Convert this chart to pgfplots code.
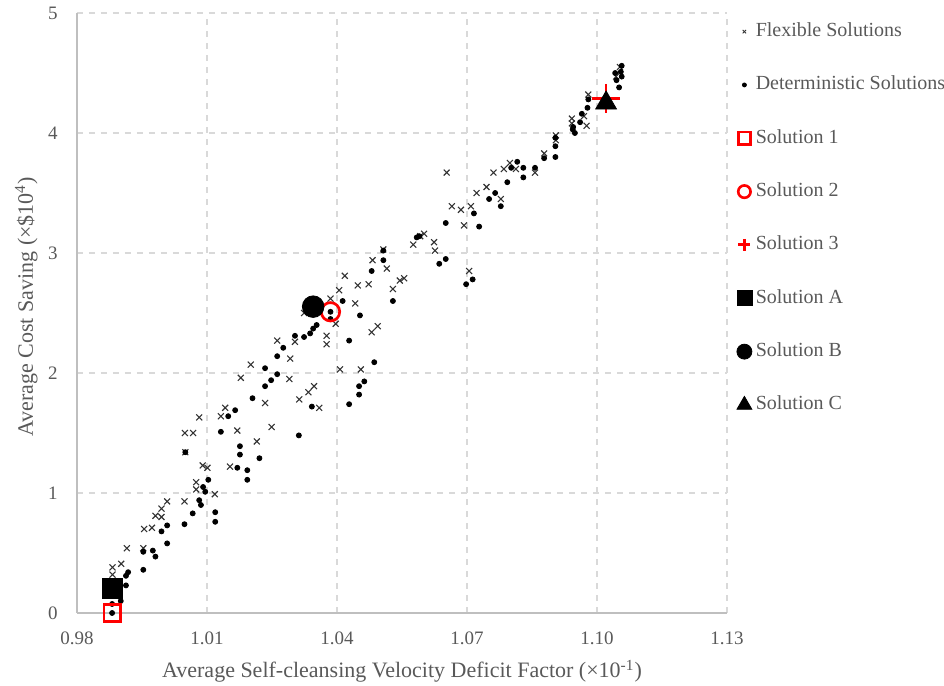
\documentclass[border=0pt]{standalone}
\usepackage{fontspec}
\setmainfont{Liberation Serif}
\usepackage{pgfplots}
\pgfplotsset{compat=1.18}
\definecolor{txt}{HTML}{595959}
\definecolor{gridc}{HTML}{D9D9D9}
\definecolor{axc}{HTML}{BFBFBF}
\definecolor{solred}{HTML}{FF0000}
\begin{document}
\begin{tikzpicture}
\useasboundingbox (-38.5pt,-36.5pt) rectangle (433.5pt,306.5pt);
\begin{axis}[
  at={(0pt,0pt)}, anchor=south west,
  scale only axis, width=325pt, height=300pt,
  xmin=0.98, xmax=1.13, ymin=0, ymax=5,
  clip=false,
  axis lines=left,
  axis line style={draw=axc, line width=0.8pt, -},
  xtick={0.98,1.01,1.04,1.07,1.10,1.13},
  xticklabels={0.98,1.01,1.04,1.07,1.10,1.13},
  ytick={0,1,2,3,4,5}, yticklabels={0,1,2,3,4,5},
  major tick length=0pt,
  grid=major,
  major grid style={draw=gridc, dashed, line width=0.6pt},
  tick label style={font=\fontsize{9.5}{11}\selectfont, text=txt},
  xticklabel style={inner sep=0pt, anchor=north, yshift=-9.3pt},
  yticklabel style={inner sep=0pt, anchor=east, xshift=-9.5pt},
  xlabel={Average Self-cleansing Velocity Deficit Factor (×10\textsuperscript{-1})},
  ylabel={Average Cost Saving (×\$10\textsuperscript{4})},
  label style={font=\fontsize{11}{13}\selectfont, text=txt, inner sep=0pt},
  xlabel style={at={(axis description cs:0.5,0)}, anchor=base, yshift=-32.5pt},
  ylabel style={at={(axis description cs:0,0.5)}, anchor=base, yshift=22pt, xshift=3pt},
  legend style={at={(axis description cs:1.00923,0.984)}, anchor=north west,
    draw=none, fill=none, inner sep=0pt, outer sep=0pt,
    row sep=17.67pt, column sep=0pt,
    font=\fontsize{10}{12}\selectfont, text=txt,
    nodes={inner sep=0pt, text height=7pt, text depth=2pt}},
  legend cell align=left,
  legend image code/.code={\path (-5.5pt,0pt) (5.5pt,0pt); \draw[#1] plot coordinates {(0pt,0pt)};},
]
% Flexible solutions
\addplot[only marks, mark=x, mark size=2.1pt, draw=black!80, mark options={line width=0.55pt}, forget plot] coordinates {
(0.9882,0.32) (0.9882,0.38) (0.9902,0.41) (0.9915,0.54) (0.9953,0.54)
(0.9955,0.70) (0.9973,0.71) (0.9981,0.81) (0.9995,0.80) (0.9995,0.87)
(1.0008,0.93) (1.0048,0.93) (1.0075,1.09) (1.0075,1.03) (1.0090,1.23)
(1.0101,1.21) (1.0118,0.99) (1.0050,1.34) (1.0153,1.22) (1.0215,1.43)
(1.0405,2.69) (1.0385,2.62) (1.0442,2.58) (1.0324,2.50) (1.0397,2.41)
(1.0262,2.27) (1.0303,2.26) (1.0376,2.31) (1.0376,2.24) (1.0292,2.12)
(1.0201,2.07) (1.0178,1.96) (1.0290,1.95) (1.0407,2.03) (1.0234,1.75)
(1.0313,1.78) (1.0334,1.84) (1.0347,1.89) (1.0359,1.71) (1.0142,1.71)
(1.0132,1.64) (1.0082,1.63) (1.0049,1.50) (1.0068,1.50) (1.0170,1.52)
(1.0249,1.55) (1.0665,3.39) (1.0686,3.36) (1.0709,3.39) (1.0693,3.23)
(1.0601,3.16) (1.0576,3.07) (1.0624,3.09) (1.0626,3.02) (1.0507,3.03)
(1.0482,2.94) (1.0515,2.87) (1.0705,2.85) (1.0418,2.81) (1.0448,2.73)
(1.0473,2.74) (1.0545,2.77) (1.0555,2.79) (1.0529,2.70) (1.0494,2.39)
(1.0480,2.34) (1.0455,2.03) (1.0653,3.67) (1.0942,4.08) (1.0976,4.06)
(1.0905,3.98) (1.0905,3.94) (1.0878,3.83) (1.0857,3.67) (1.0785,3.70)
(1.0799,3.75) (1.0813,3.70) (1.0761,3.67) (1.0745,3.55) (1.0722,3.50)
(1.0778,3.45) (1.0592,3.14) (1.0980,4.32) (1.0942,4.12) (1.0970,4.14)
(1.1053,4.55) (1.1044,4.47)
};
% Deterministic solutions
\addplot[only marks, mark=*, mark size=1.25pt, black, forget plot] coordinates {
(0.9881,0.00) (0.9881,0.075) (0.9901,0.10) (0.9913,0.23) (0.9913,0.31)
(0.9918,0.34) (0.9953,0.36) (0.9953,0.51) (0.9975,0.52) (0.9981,0.47)
(1.0008,0.58) (0.9995,0.68) (1.0008,0.73) (1.0048,0.74) (1.0067,0.83)
(1.0082,0.94) (1.0086,0.90) (1.0091,1.05) (1.0103,1.11) (1.0096,1.01)
(1.0119,0.84) (1.0119,0.76) (1.0050,1.34) (1.0170,1.21) (1.0193,1.19)
(1.0193,1.11) (1.0176,1.39) (1.0176,1.32) (1.0221,1.29) (1.0385,2.51)
(1.0385,2.45) (1.0338,2.33) (1.0345,2.37) (1.0353,2.40) (1.0413,2.60)
(1.0303,2.31) (1.0324,2.30) (1.0428,2.27) (1.0276,2.21) (1.0262,2.14)
(1.0234,2.04) (1.0262,1.99) (1.0248,1.94) (1.0234,1.89) (1.0451,1.89)
(1.0451,1.82) (1.0428,1.74) (1.0205,1.79) (1.0342,1.72) (1.0165,1.69)
(1.0149,1.64) (1.0132,1.51) (1.0312,1.48) (1.0716,3.33) (1.0651,3.25)
(1.0584,3.13) (1.0590,3.14) (1.0507,3.02) (1.0507,2.94) (1.0480,2.85)
(1.0651,2.95) (1.0636,2.91) (1.0713,2.78) (1.0698,2.74) (1.0529,2.60)
(1.0453,2.48) (1.0486,2.09) (1.0463,1.93) (1.0961,4.09) (1.0944,4.03)
(1.0949,4.00) (1.0904,3.96) (1.0904,3.89) (1.0904,3.80) (1.0878,3.79)
(1.0857,3.71) (1.0830,3.71) (1.0830,3.63) (1.0816,3.76) (1.0802,3.71)
(1.0793,3.59) (1.0765,3.50) (1.0778,3.39) (1.0751,3.45) (1.0728,3.22)
(1.1057,4.56) (1.1055,4.51) (1.1042,4.50) (1.1057,4.47) (1.1045,4.44)
(1.1051,4.38) (1.0980,4.28) (1.0978,4.21) (1.0965,4.16) (1.0945,4.05)
};
% Solution 1
\addplot[only marks, mark=square, mark size=4.1pt, draw=solred, mark options={line width=1.35pt}, forget plot] coordinates {(0.9881,0.00)};
% Solution 2
\addplot[only marks, mark=o, mark size=4.6pt, draw=solred, mark options={line width=1.35pt}, forget plot] coordinates {(1.0385,2.51)};
% Solution 3
\addplot[only marks, mark=+, mark size=7.2pt, draw=solred, mark options={line width=1.35pt}, forget plot] coordinates {(1.1021,4.29)};
% Solution A
\addplot[only marks, mark=square*, mark size=5pt, black, forget plot] coordinates {(0.9881,0.204)};
% Solution B
\addplot[only marks, mark=*, mark size=5.4pt, black, forget plot] coordinates {(1.0345,2.553)};
% Solution C
\addplot[only marks, mark=triangle*, mark size=6pt, black, forget plot] coordinates {(1.1021,4.25)};

\addlegendimage{only marks, mark=x, mark size=1.2pt, draw=black!80, mark options={line width=0.45pt}}
\addlegendentry{Flexible Solutions}
\addlegendimage{only marks, mark=*, mark size=1pt, black}
\addlegendentry{Deterministic Solutions}
\addlegendimage{only marks, mark=square, mark size=3.1pt, draw=solred, mark options={line width=1.3pt}}
\addlegendentry{Solution 1}
\addlegendimage{only marks, mark=o, mark size=3.1pt, draw=solred, mark options={line width=1.3pt}}
\addlegendentry{Solution 2}
\addlegendimage{only marks, mark=+, mark size=3pt, draw=solred, mark options={line width=1.5pt}}
\addlegendentry{Solution 3}
\addlegendimage{only marks, mark=square*, mark size=3.75pt, black}
\addlegendentry{Solution A}
\addlegendimage{only marks, mark=*, mark size=3.75pt, black}
\addlegendentry{Solution B}
\addlegendimage{only marks, mark=triangle*, mark size=4.3pt, black}
\addlegendentry{Solution C}
\end{axis}
\end{tikzpicture}
\end{document}
